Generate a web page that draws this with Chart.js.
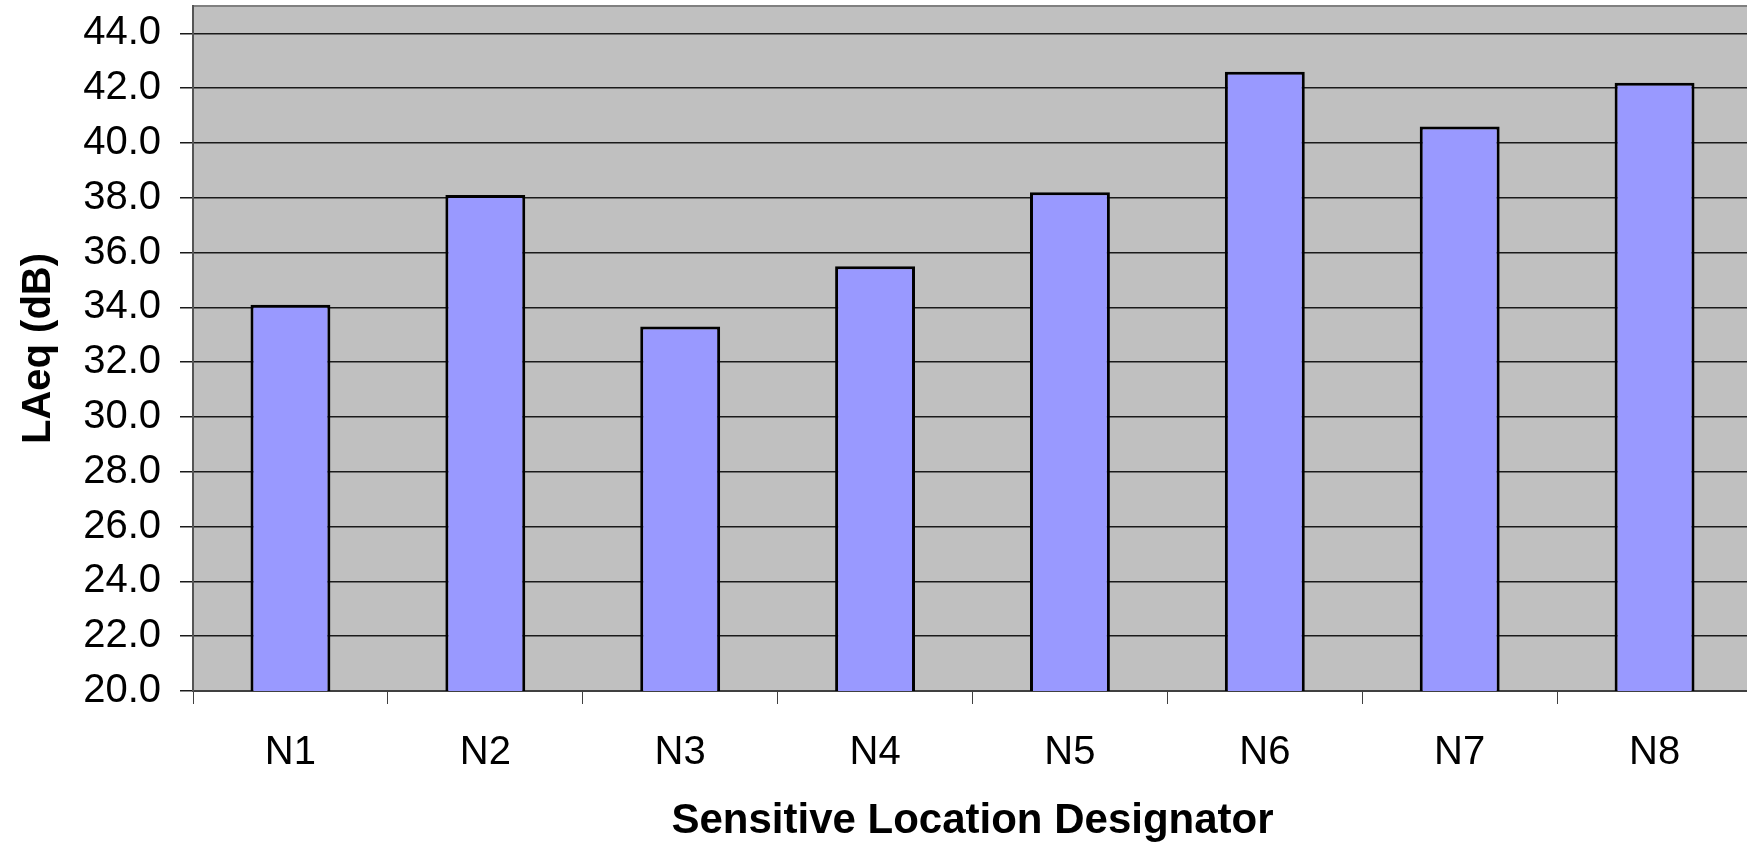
<!DOCTYPE html>
<html>
<head>
<meta charset="utf-8">
<script src="https://cdn.jsdelivr.net/npm/chart.js@4.4.1/dist/chart.umd.min.js"></script>
<style>
  html, body { margin: 0; padding: 0; background: #fff; overflow: hidden; }
  #wrap { width: 1752px; height: 847px; }
</style>
</head>
<body>
<div id="wrap"><canvas id="chart"></canvas></div>
<script>
const locations = ['N1', 'N2', 'N3', 'N4', 'N5', 'N6', 'N7', 'N8']
const laeq = [34.1, 38.1, 33.3, 35.5, 38.2, 42.6, 40.6, 42.2]
const yMin = 20
const yMax = 45
const yStep = 2
const xTitle = 'Sensitive Location Designator'
const yTitle = 'LAeq (dB)'

const FONT = "'Liberation Sans', Arial, sans-serif"

// grey plot area and its top edge, like the old spreadsheet chart
const plotBackground = {
  id: 'plotBackground',
  beforeDraw(chart) {
    const { ctx, chartArea: a } = chart
    ctx.save()
    ctx.fillStyle = '#C0C0C0'
    ctx.fillRect(a.left, a.top, a.right - a.left, a.bottom - a.top)
    ctx.strokeStyle = '#808080'
    ctx.lineWidth = 2
    ctx.beginPath()
    ctx.moveTo(a.left, a.top)
    ctx.lineTo(a.right, a.top)
    ctx.stroke()
    ctx.restore()
  }
}

new Chart(document.getElementById('chart').getContext('2d'), {
  type: 'bar',
  data: {
    labels: locations,
    datasets: [{
      label: 'LAeq',
      data: laeq,
      backgroundColor: '#9999FF',
      borderColor: '#000000',
      borderWidth: 3,
      borderSkipped: false,
      barPercentage: 0.41,
      categoryPercentage: 1.0
    }]
  },
  options: {
    responsive: true,
    maintainAspectRatio: false,
    animation: false,
    layout: { padding: { top: 6, right: 0, left: 0, bottom: 0 } },
    plugins: {
      legend: { display: false },
      tooltip: { enabled: false }
    },
    scales: {
      x: {
        grid: { drawOnChartArea: false, offset: true, tickLength: 13, color: '#404040', lineWidth: 1 },
        border: { color: '#404040', width: 2 },
        ticks: { color: '#000', padding: 25, font: { family: FONT, size: 40 } },
        title: { display: true, text: xTitle, color: '#000', padding: 0, font: { family: FONT, size: 42, weight: 'bold' } },
        afterFit(scale) { scale.height = 156 }
      },
      y: {
        min: yMin,
        max: yMax,
        grid: { color: '#1a1a1a', lineWidth: 1.5, tickLength: 13 },
        border: { color: '#555', width: 2 },
        ticks: {
          stepSize: yStep,
          includeBounds: false,
          color: '#000',
          padding: 19,
          font: { family: FONT, size: 40 },
          callback: v => v.toFixed(1)
        },
        title: { display: true, text: yTitle, color: '#000', padding: { top: 15, bottom: 0 }, font: { family: FONT, size: 40, weight: 'bold' } },
        afterFit(scale) {
          scale.width = 193
          scale.paddingTop = 0
          scale.paddingBottom = 0
        }
      }
    }
  },
  plugins: [plotBackground]
})
</script>
</body>
</html>
